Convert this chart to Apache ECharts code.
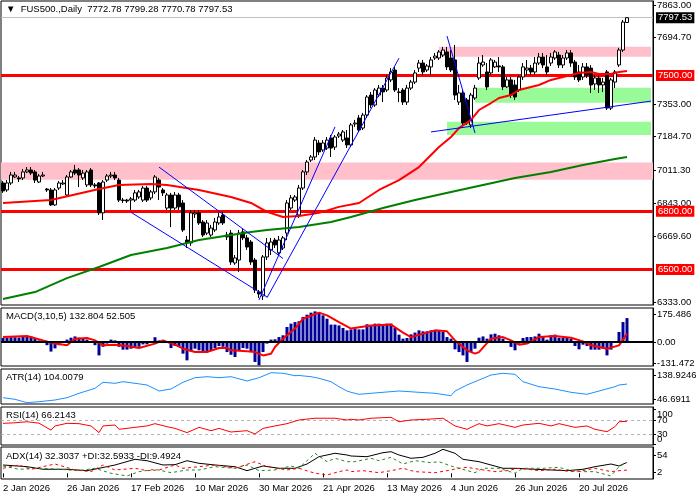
<!DOCTYPE html>
<html>
<head>
<meta charset="utf-8">
<title>FUS500 Daily</title>
<script src="https://cdn.jsdelivr.net/npm/echarts@6/dist/echarts.min.js"></script>
<style>
html, body { margin: 0; padding: 0; background: #fff; }
#chart { width: 700px; height: 500px; }
</style>
</head>
<body>
<div id="chart"></div>
<script>
var FONT = 'Liberation Sans, Arial, sans-serif';
var FS = 9.5;

// bottom axis labels, one every 16 bars
var dateLabels = ['2 Jan 2026', '26 Jan 2026', '17 Feb 2026', '10 Mar 2026', '30 Mar 2026',
                  '21 Apr 2026', '13 May 2026', '4 Jun 2026', '26 Jun 2026', '20 Jul 2026'];
var barsPerLabel = 16;
var slots = 163;            // 157 candles + empty shift on the right

// daily candles [open, close, low, high]
var candles = [
  [6946,6905,6895,6956],[6910,6946,6900,6961],[6946,6987,6936,7003],[6977,6987,6972,7003],[6972,6967,6951,6982],
  [6972,7003,6961,7018],[7003,7013,6997,7028],[7013,6997,6987,7028],[7003,6961,6946,7013],[6951,6982,6946,6992],
  [6982,6987,6977,7003],[6915,6910,6900,6920],[6910,6833,6828,6920],[6833,6910,6828,6920],[6920,6946,6910,6956],
  [6941,6946,6936,6961],[6884,6977,6879,6987],[6977,7003,6972,7013],[7013,6997,6987,7039],[7013,6987,6925,7023],
  [6972,6997,6961,7013],[6936,7003,6925,7013],[7013,6936,6925,7023],[6936,6931,6920,6946],[6946,6792,6781,6951],
  [6792,6951,6755,6961],[6961,6982,6951,6992],[6982,6987,6972,7003],[6987,6972,6961,7003],[6961,6858,6848,6972],
  [6858,6856,6843,6869],[6858,6853,6843,6864],[6858,6864,6807,6874],[6858,6895,6848,6910],[6874,6900,6864,6910],
  [6858,6920,6848,6931],[6920,6858,6848,6931],[6869,6900,6858,6910],[6900,6977,6889,6987],[6961,6925,6858,6972],
  [6910,6895,6879,6920],[6817,6884,6807,6895],[6884,6817,6719,6895],[6817,6884,6807,6900],[6884,6823,6807,6895],
  [6843,6704,6694,6858],[6652,6637,6611,6673],[6637,6792,6622,6807],[6786,6792,6766,6807],[6792,6740,6730,6807],
  [6745,6678,6668,6755],[6688,6740,6678,6755],[6678,6714,6668,6730],[6704,6745,6694,6766],[6740,6771,6730,6792],
  [6781,6740,6730,6797],[6678,6668,6652,6694],[6688,6539,6524,6704],[6534,6560,6524,6575],[6549,6688,6488,6704],
  [6694,6663,6652,6714],[6663,6616,6601,6678],[6642,6539,6524,6652],[6549,6395,6379,6560],[6385,6374,6354,6395],
  [6364,6565,6343,6575],[6565,6637,6549,6663],[6601,6642,6575,6663],[6652,6627,6611,6663],[6586,6652,6575,6673],
  [6611,6663,6601,6673],[6688,6843,6652,6858],[6817,6869,6807,6884],[6858,6874,6848,6884],[6781,6920,6766,6936],
  [6920,7003,6910,7013],[7003,7054,6987,7064],[7064,7080,7054,7090],[7080,7167,7064,7183],[7152,7106,7090,7167],
  [7116,7152,7106,7167],[7126,7167,7116,7183],[7178,7126,7080,7193],[7131,7183,7116,7193],[7188,7198,7178,7209],
  [7167,7209,7157,7219],[7178,7142,7126,7219],[7142,7245,7131,7255],[7250,7255,7235,7271],[7281,7219,7209,7296],
  [7229,7296,7219,7307],[7296,7389,7281,7399],[7399,7348,7332,7415],[7348,7425,7338,7435],[7399,7435,7389,7451],
  [7435,7415,7363,7451],[7425,7487,7415,7502],[7477,7518,7466,7538],[7528,7425,7415,7544],[7415,7412,7363,7435],
  [7425,7363,7348,7435],[7363,7435,7348,7451],[7435,7466,7425,7477],[7466,7513,7456,7528],[7538,7564,7518,7580],
  [7564,7518,7502,7580],[7528,7549,7518,7559],[7544,7580,7502,7595],[7590,7600,7580,7616],[7590,7621,7580,7631],
  [7605,7631,7595,7647],[7621,7544,7528,7647],[7590,7528,7518,7631],[7580,7399,7374,7657],[7363,7410,7348,7451],
  [7410,7255,7235,7425],[7374,7255,7245,7384],[7245,7399,7229,7410],[7384,7435,7374,7451],[7487,7564,7477,7595],
  [7554,7569,7544,7605],[7518,7441,7425,7564],[7513,7580,7502,7590],[7544,7569,7538,7580],[7549,7544,7518,7595],
  [7544,7441,7425,7554],[7441,7477,7435,7492],[7477,7399,7384,7492],[7451,7389,7374,7477],[7425,7492,7415,7502],
  [7492,7544,7477,7564],[7528,7538,7502,7580],[7538,7518,7502,7554],[7518,7564,7502,7595],[7564,7595,7554,7616],
  [7595,7554,7538,7616],[7544,7518,7502,7605],[7564,7595,7549,7616],[7590,7621,7580,7631],[7605,7554,7538,7621],
  [7554,7590,7538,7605],[7590,7616,7580,7631],[7616,7564,7544,7631],[7569,7492,7477,7580],[7518,7477,7466,7554],
  [7492,7544,7477,7564],[7544,7502,7487,7564],[7538,7451,7410,7554],[7456,7487,7425,7502],[7487,7451,7410,7502],
  [7451,7466,7415,7487],[7518,7332,7322,7528],[7332,7477,7322,7487],[7466,7518,7435,7528],[7554,7631,7544,7642],
  [7631,7775,7621,7786],[7772.78,7797.53,7770.78,7799.28]
];

// moving averages, read at [bar, value]
var redMA = [[0,6843],[12,6858],[24,6915],[29,6936],[37,6941],[41,6936],[49,6910],[57,6874],[62,6843],[66,6797],
  [70,6771],[74,6776],[79,6792],[84,6823],[89,6843],[94,6910],[99,6961],[104,7028],[109,7131],[112,7183],
  [114,7229],[117,7271],[119,7322],[122,7358],[124,7384],[127,7399],[129,7425],[132,7441],[134,7451],[137,7477],
  [139,7487],[142,7502],[144,7513],[147,7518],[149,7508],[152,7508],[154,7518],[156,7523]];
var greenMA = [[0,6348],[8,6384],[16,6456],[24,6513],[32,6575],[41,6611],[49,6652],[57,6678],[62,6694],[66,6704],
  [74,6719],[82,6745],[87,6771],[95,6817],[103,6858],[112,6900],[120,6936],[128,6972],[137,7003],[145,7039],
  [153,7070],[156,7080]];

var trendLines = [
  [[39,7028],[70,6557]],
  [[32,6795],[66,6359]],
  [[64,6343],[83,7235]],
  [[66,6355],[99,7589]],
  [[111,7703],[118,7204]],
  [[107,7209],[162,7368]]
];
var levels = [7500, 6800, 6500];
var bid = 7797.53;
// zones [fromBar, toBar, top, bottom]; null = full width
var pinkZones = [[null,null,7051,6963],[109,162,7648,7597]];
var greenZones = [[118,162,7437,7360],[111,162,7262,7193]];
var priceTicks = [7863.00, 7694.70, 7353.00, 7184.70, 7011.30, 6843.00, 6669.60, 6333.00];

// MACD(3,10,5)
var macdHist = [
  25,27,30,30,28,32,35,35,25,10,
  10,-20,-60,-40,-20,-5,15,27,35,27,
  20,15,5,-20,-84,-30,-10,15,10,-30,
  -48,-48,-42,-35,-30,-15,-15,-5,30,10,
  3,6,-38,-25,-30,-73,-115,-58,-42,-52,
  -63,-58,-52,-38,-25,-30,-63,-80,-94,-52,
  -38,-42,-63,-125,-146,-63,-10,15,17,31,
  42,94,115,125,130,157,171,184,192,184,
  167,146,109,109,104,88,73,79,84,79,
  79,111,100,115,115,104,115,115,88,46,
  21,25,48,59,73,67,67,73,73,69,
  63,31,21,-46,-63,-84,-125,-63,-42,27,
  35,21,48,52,42,21,-4,-31,-52,-10,
  25,31,31,35,52,31,15,42,46,27,
  27,27,21,-25,-46,-17,-25,-48,-48,-48,
  -42,-84,-48,2,63,125,150
];
var macdSignal = [[0,31],[6,38],[10,10],[13,-10],[16,-21],[18,21],[21,25],[23,10],[25,-21],[28,-17],[31,-25],
  [34,-38],[38,-10],[40,10],[43,-17],[45,-42],[48,-63],[51,-63],[54,-38],[56,-38],[57,-52],[61,-58],[63,-63],
  [65,-84],[67,-73],[68,-31],[70,21],[73,84],[75,146],[79,184],[81,167],[84,125],[87,84],[92,104],[97,109],
  [100,59],[102,31],[106,59],[108,73],[111,67],[113,10],[116,-52],[118,-73],[119,-63],[122,21],[125,31],
  [127,10],[129,-17],[131,-10],[134,31],[138,38],[142,27],[145,4],[147,-21],[151,-42],[154,-21],[156,52.5]];
var macdTicks = [175.486, 0, -131.472];

// ATR(14)
var atr = [[0,51.7],[3,45.5],[6,32.5],[9,36.3],[13,42.8],[16,51.7],[19,68.6],[23,87.8],[25,110.9],[28,107],
  [30,113.2],[33,107],[36,100.5],[39,77.4],[42,85.1],[45,110.9],[48,128.5],[51,132.4],[54,128.5],[57,132.4],
  [61,115.9],[64,128.5],[67,147.8],[70,145.5],[73,136.2],[74,137],[77,132.4],[79,126.2],[82,113.2],[84,94],
  [86,77.4],[87,72.4],[89,64.7],[92,68.6],[95,72.4],[99,77.4],[104,72.4],[108,68.6],[112,59.4],[113,77.4],
  [116,100.5],[119,119.7],[122,138.9],[125,145.5],[128,141.6],[130,113.2],[134,94],[138,85.1],[142,72.4],
  [146,64.7],[149,77.4],[153,94],[154,100.5],[156,104]];
var atrTicks = [138.9246, 46.6911];

// RSI(14)
var rsi = [[0,60.5],[3,62],[6,65],[9,61],[12,41],[13,53],[16,60.5],[19,59.5],[22,53],[24,34],[25,53],[28,55.7],
  [29,43.4],[33,49],[36,53],[38,59.5],[41,51],[43,46],[46,34],[49,49],[52,39.5],[54,46],[57,35.7],[61,39.5],
  [63,30],[65,46],[68,53],[71,59.5],[74,70],[78,75],[83,75],[86,70],[87,72],[89,70],[92,75],[97,77.6],[99,65],
  [102,70],[106,72],[110,75],[113,53],[116,43.4],[119,59.5],[121,53],[124,59.5],[128,49],[130,55.7],[134,60.5],
  [137,53],[139,59.5],[143,49],[146,53],[148,43.4],[151,36.6],[153,51],[154,65],[156,66.2]];
var rsiTicks = [70, 30];
var rsiBounds = [0, 100];
var rsiLevels = [70, 30];

// ADX(14) with +DI / -DI
var adx = [[0,24.6],[6,19.6],[10,12],[16,12],[21,7.9],[24,14.9],[28,24.6],[33,41.3],[36,37.2],[40,24.6],[43,25.5],
  [46,37.2],[49,29.6],[53,24.6],[58,19.6],[61,7.9],[65,21.7],[69,14.9],[73,14.9],[76,27.5],[79,49],[83,59],
  [86,54],[87,51],[91,49],[95,60.8],[97,63.7],[99,54],[102,44.3],[105,47.2],[108,59],[110,70.7],[113,59],
  [115,41.3],[119,34.3],[122,24.6],[125,14.9],[128,14.9],[133,12],[137,9.9],[141,7.9],[145,12],[148,19.6],
  [152,27.5],[154,21.7],[156,32.3]];
var plusDI = [[0,21.7],[4,12],[10,14.9],[14,12],[19,7.9],[23,14.9],[27,0.2],[31,-7.7],[34,5],[38,12],[42,2],
  [46,9.9],[49,9.9],[53,19.6],[58,14.9],[61,24.6],[64,7.9],[68,9.9],[72,21.7],[74,14.9],[76,37.2],[78,59],
  [81,34.3],[83,44.3],[86,34.3],[88,34.3],[92,44.3],[94,37.2],[97,47.2],[100,27.5],[103,37.2],[107,31.3],
  [109,34.3],[112,21.7],[114,14.9],[118,2],[120,14.9],[124,14.9],[128,0.2],[130,14.9],[135,14.9],[139,17.8],
  [142,7.9],[145,5],[148,5],[152,-7.7],[154,19.6],[156,32.6]];
var minusDI = [[0,14.9],[4,24.6],[7,12],[13,27.5],[18,9.9],[22,5],[25,24.6],[28,9.9],[33,14.9],[36,7.9],[39,9.9],
  [43,24.6],[45,14.9],[49,19.6],[53,24.6],[58,14.9],[63,34.3],[66,19.6],[71,9.9],[74,14.9],[78,0.2],[81,-4.8],
  [84,5],[86,9.9],[87,5],[90,7.9],[94,2],[97,7.9],[100,14.9],[103,5],[108,2],[111,7.9],[114,14.9],[116,17.8],
  [119,12],[123,5],[126,7.9],[129,14.9],[134,7.9],[138,12],[142,5],[145,7.9],[148,14.9],[152,5],[154,7.9],[156,9.5]];
var adxTicks = [54, 2];

var panelTitles = [
  '\u25BC  FUS500.,Daily  7772.78 7799.28 7770.78 7797.53',
  'MACD(3,10,5) 132.804 52.505',
  'ATR(14) 104.0079',
  'RSI(14) 66.2143',
  'ADX(14) 32.3037 +DI:32.5933 -DI:9.4924'
];

// panel layout: pixel box + value range
var panels = [
  { top: 1,   height: 304, min: 6317.4, max: 7883.6, ticks: priceTicks, fmt: function (v) { return v.toFixed(2); }, titleTop: 4 },
  { top: 308, height: 58,  min: -150.4, max: 213.1,  ticks: macdTicks,  fmt: function (v) { return v === 0 ? '0.00' : String(v); }, titleTop: 311 },
  { top: 369, height: 35,  min: 27.47,  max: 161.98, ticks: atrTicks,   fmt: String, titleTop: 372 },
  { top: 407, height: 38,  min: -1.4,   max: 107.1,  ticks: rsiTicks,   fmt: String, titleTop: 410 },
  { top: 447, height: 32,  min: -16.6,  max: 77.5,   ticks: adxTicks,   fmt: String, titleTop: 451 }
];

var cats = [];
for (var i = 0; i < slots; i++) cats.push(String(i));

function showDate(idx) {
  return idx % barsPerLabel === 0 && idx / barsPerLabel < dateLabels.length;
}

var textBase = { fontFamily: FONT, fontSize: FS, color: '#000' };

var grids = [], xAxes = [], yAxes = [], titles = [];
panels.forEach(function (p, k) {
  var last = k === panels.length - 1;
  grids.push({
    left: 1, right: 47, top: p.top, height: p.height,
    show: true, borderColor: '#000', borderWidth: 1, backgroundColor: '#fff',
    containLabel: false, outerBoundsMode: 'none'
  });
  xAxes.push({
    type: 'category', gridIndex: k, data: cats, boundaryGap: true,
    axisLine: { show: false },
    axisTick: { show: last, interval: function (idx) { return showDate(idx); }, alignWithLabel: true, length: 4, lineStyle: { color: '#000' } },
    axisLabel: {
      show: last, interval: function (idx) { return showDate(idx); },
      formatter: function (v, idx) { return dateLabels[idx / barsPerLabel]; },
      align: 'left', margin: 4, fontFamily: FONT, fontSize: FS, color: '#000'
    },
    splitLine: { show: false }
  });
  yAxes.push({
    type: 'value', gridIndex: k, position: 'right', min: p.min, max: p.max,
    axisLine: { show: true, lineStyle: { color: '#000' } },
    axisTick: { show: true, customValues: p.ticks, length: 3, lineStyle: { color: '#000' } },
    axisLabel: { show: true, customValues: p.ticks, formatter: p.fmt, margin: 4,
                 fontFamily: FONT, fontSize: FS, color: '#000' },
    splitLine: { show: false }
  });
  titles.push({
    text: panelTitles[k], left: 6, top: p.titleTop, padding: 0,
    textStyle: { fontFamily: FONT, fontSize: FS, fontWeight: 'normal', color: '#000' }
  });
});
// RSI 0 / 100 bounds on their own axis so they may overlap 30 / 70 like the terminal does
yAxes.push({
  type: 'value', gridIndex: 3, position: 'right', min: panels[3].min, max: panels[3].max,
  axisLine: { show: false },
  axisTick: { show: true, customValues: rsiBounds, length: 3, lineStyle: { color: '#000' } },
  axisLabel: { show: true, customValues: rsiBounds, formatter: String, margin: 4,
               showMinLabel: true, showMaxLabel: true,
               verticalAlignMinLabel: 'bottom', verticalAlignMaxLabel: 'top',
               fontFamily: FONT, fontSize: FS, color: '#000' },
  splitLine: { show: false }
});

function zoneData(list, color) {
  return list.map(function (z) {
    if (z[0] === null) return [{ yAxis: z[2], itemStyle: { color: color } }, { yAxis: z[3] }];
    return [{ xAxis: z[0], yAxis: z[2], itemStyle: { color: color } }, { xAxis: z[1], yAxis: z[3] }];
  });
}

function lineSeries(data, k, color, width, dashed, z) {
  return {
    type: 'line', xAxisIndex: k, yAxisIndex: k, data: data,
    symbol: 'none', showSymbol: false, silent: true, z: z || 4,
    lineStyle: { color: color, width: width, type: dashed ? [3, 3] : 'solid' }
  };
}

function axisTag(text, bg) {
  return { show: true, position: 'end', distance: 3, formatter: text, color: '#fff',
           backgroundColor: bg, padding: [1, 2, 0, 2], fontFamily: FONT, fontSize: FS };
}

var series = [
  {
    type: 'candlestick', xAxisIndex: 0, yAxisIndex: 0, data: candles, barWidth: 3, z: 3, silent: true,
    itemStyle: { color: '#fff', color0: '#000', borderColor: '#000', borderColor0: '#000', borderColorDoji: '#000', borderWidth: 1 },
    markArea: { silent: true, z: 1, data: zoneData(pinkZones, '#ffc0cb').concat(zoneData(greenZones, '#98fb98')) }
  },
  {
    type: 'line', xAxisIndex: 0, yAxisIndex: 0, data: [], z: 2, silent: true,
    markLine: {
      silent: true, z: 2, symbol: ['none', 'none'], animation: false,
      data: levels.map(function (v) {
        return { yAxis: v, lineStyle: { color: '#ff0000', width: 3, type: 'solid' }, label: axisTag(v.toFixed(2), '#ff0000') };
      }).concat([{
        yAxis: bid, lineStyle: { color: '#c0c0c0', width: 1, type: 'solid' }, label: axisTag(bid.toFixed(2), '#000')
      }])
    }
  },
  lineSeries(redMA, 0, '#ff0000', 2),
  lineSeries(greenMA, 0, '#008000', 2)
];
trendLines.forEach(function (t) { series.push(lineSeries(t, 0, '#0000ff', 1, false, 5)); });

series.push({
  type: 'bar', xAxisIndex: 1, yAxisIndex: 1, data: macdHist, barWidth: 3, silent: true,
  itemStyle: { color: '#000099' },
  markLine: { silent: true, symbol: ['none', 'none'], label: { show: false },
              lineStyle: { color: '#000', width: 2, type: 'solid' }, data: [{ yAxis: 0 }] }
});
series.push(lineSeries(macdSignal, 1, '#ff0000', 2));
series.push(lineSeries(atr, 2, '#1e90ff', 1));
var rsiLine = lineSeries(rsi, 3, '#ff0000', 1);
rsiLine.markLine = { silent: true, z: 1, symbol: ['none', 'none'], label: { show: false },
                     lineStyle: { color: '#b4b4b4', width: 1, type: [3, 3] },
                     data: rsiLevels.map(function (v) { return { yAxis: v }; }) };
series.push(rsiLine);
series.push(lineSeries(adx, 4, '#000', 1));
series.push(lineSeries(plusDI, 4, '#228b22', 1, true));
series.push(lineSeries(minusDI, 4, '#ff0000', 1, true));

var chart = echarts.init(document.getElementById('chart'));
var option = {
  backgroundColor: '#fff',
  animation: false,
  textStyle: textBase,
  title: titles,
  grid: grids,
  xAxis: xAxes,
  yAxis: yAxes,
  series: series
};
chart.setOption(option);
</script>
</body>
</html>
